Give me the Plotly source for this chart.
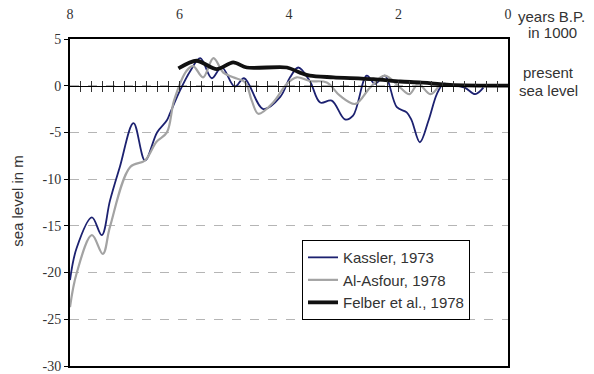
import numpy as np
import plotly.graph_objects as go

# ---- data (x in 1000 years B.P., y = sea level in m) ----
kassler_x = [8.0, 7.88, 7.6, 7.42, 7.27, 7.09, 6.84, 6.63, 6.41, 6.23, 6.17, 5.99, 5.8,
             5.62, 5.41, 5.23, 4.99, 4.82, 4.47, 4.16, 3.98, 3.83, 3.62, 3.43, 3.22, 2.98,
             2.83, 2.58, 2.43, 2.25, 2.03, 1.85, 1.76, 1.61, 1.45, 1.3, 1.18, 1.06, 0.79,
             0.6, 0.45]
kassler_y = [-20.8, -17.4, -14.1, -16.0, -12.3, -8.7, -4.0, -8.0, -5.0, -3.7, -2.9, -0.5, 1.6,
             2.95, 0.8, 2.0, -0.1, 0.8, -2.5, -1.2, 0.9, 1.95, 0.5, -1.8, -1.6, -3.6,
             -3.2, 1.07, 0.2, 1.07, -2.3, -2.85, -3.7, -6.05, -3.7, -0.9, 0.2, 0.1, -0.2,
             -0.9, -0.2]

asfour_x = [8.0, 7.88, 7.6, 7.4, 7.27, 6.9, 6.63, 6.42, 6.23, 6.1, 5.87, 5.75, 5.57, 5.38,
            5.2, 5.02, 4.8, 4.68, 4.56, 4.29, 4.04, 3.86, 3.62, 3.31, 3.07, 2.79, 2.52,
            2.25, 1.97, 1.8, 1.64, 1.42, 1.25]
asfour_y = [-23.7, -20.1, -16.0, -18.0, -15.1, -8.7, -8.0, -6.0, -5.0, -1.6, 1.6, 2.1, 0.9, 2.95,
            1.4, 0.9, 0.35, -1.6, -3.0, -1.8, 0.2, 0.9, 0.5, 0.35, -1.07, -1.95, -0.2,
            1.07, -0.2, -0.9, 0.2, -0.9, 0.1]

felber_x = [6.02, 5.69, 5.32, 5.02, 4.77, 4.04, 3.8, 3.62, 3.19, 2.46, 1.97, 1.61, 1.06, 0.0]
felber_y = [1.85, 2.67, 1.78, 2.5, 1.95, 1.95, 1.4, 1.07, 0.9, 0.7, 0.45, 0.35, 0.1, 0.0]

x_ticks = [8, 6, 4, 2, 0]
y_ticks = [5, 0, -5, -10, -15, -20, -25, -30]
y_ticktext = [str(v) for v in y_ticks]

SERIF = "Times New Roman, Liberation Serif, serif"
SANS = "Liberation Sans"
TXT = "#333333"

fig = go.Figure()
fig.add_trace(go.Scatter(x=kassler_x, y=kassler_y, mode="lines", name="Kassler, 1973",
                         line=dict(color="#1c2170", width=1.8, shape="spline", smoothing=1.0)))
fig.add_trace(go.Scatter(x=asfour_x, y=asfour_y, mode="lines", name="Al-Asfour, 1978",
                         line=dict(color="#a3a3a3", width=2.2, shape="spline", smoothing=1.0)))
fig.add_trace(go.Scatter(x=felber_x, y=felber_y, mode="lines", name="Felber et al., 1978",
                         line=dict(color="#111111", width=3.8, shape="spline", smoothing=0.8)))

minor = [round(v, 1) for v in np.arange(0.2, 8.0, 0.2)]

fig.update_layout(
    template="none",
    width=594, height=374,
    margin=dict(l=70, r=86, t=39, b=8, autoexpand=False),
    paper_bgcolor="white", plot_bgcolor="white",
    showlegend=True,
    legend=dict(x=0.5297, y=0.385, xanchor="left", yanchor="top",
                bordercolor="black", borderwidth=1, bgcolor="white",
                font=dict(family=SANS, size=15, color=TXT),
                tracegroupgap=0, itemwidth=30),
    xaxis=dict(range=[8, 0], side="top", tickvals=x_ticks, ticktext=[str(v) for v in x_ticks],
               showgrid=False, zeroline=False, ticks="", ticklabelstandoff=12, automargin=False,
               tickfont=dict(family=SERIF, size=14, color=TXT),
               showline=True, linecolor="black", linewidth=2, mirror=True),
    yaxis=dict(range=[-30, 5], tickvals=y_ticks, ticktext=y_ticktext, automargin=False,
               showgrid=True, gridcolor="#b5b5b5", griddash="dash", gridwidth=1,
               zeroline=False, ticks="outside", ticklen=4, tickcolor="black",
               tickfont=dict(family=SERIF, size=14, color=TXT),
               showline=True, linecolor="black", linewidth=2, mirror=True),
    xaxis2=dict(range=[8, 0], overlaying="x", anchor="free", position=30 / 35, side="bottom",
                tickvals=minor, ticks="outside", ticklen=5, tickcolor="#333", tickwidth=1,
                showticklabels=False, showgrid=False, zeroline=False, automargin=False,
                showline=True, linecolor="black", linewidth=1.3),
    xaxis3=dict(range=[8, 0], overlaying="x", anchor="free", position=30 / 35, side="top",
                tickvals=minor, ticks="outside", ticklen=5, tickcolor="#333", tickwidth=1,
                showticklabels=False, showgrid=False, zeroline=False, showline=False,
                automargin=False),
)
fig.add_trace(go.Scatter(x=[], y=[], xaxis="x2", showlegend=False, hoverinfo="skip"))
fig.add_trace(go.Scatter(x=[], y=[], xaxis="x3", showlegend=False, hoverinfo="skip"))

ann_font = dict(family=SANS, size=15, color=TXT)
for txt, ax, ay in [("years B.P.", 1.1, 1.068), ("in 1000", 1.1027, 1.02),
                    ("present", 1.0936, 0.899), ("sea level", 1.0936, 0.841)]:
    fig.add_annotation(text=txt, xref="paper", yref="paper", x=ax, y=ay,
                       xanchor="center", yanchor="middle", showarrow=False, font=ann_font)
fig.add_annotation(text="sea level in m", xref="paper", yref="paper",
                   x=0, y=0.505, xshift=-52, xanchor="center", yanchor="middle",
                   textangle=-90, showarrow=False, font=ann_font)

fig.write_html("out.html", config={"displayModeBar": False},
               post_script="document.body.style.margin='0';")
